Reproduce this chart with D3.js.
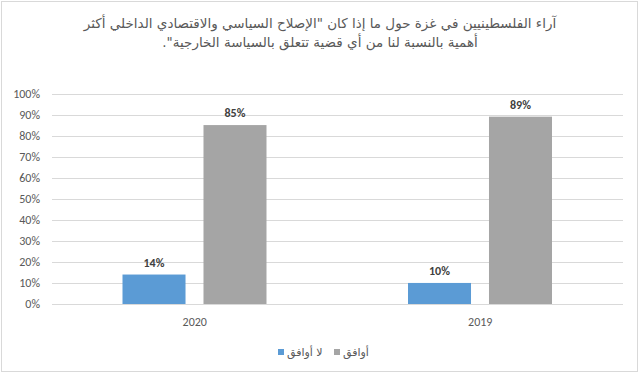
<!DOCTYPE html>
<html>
<head>
<meta charset="utf-8">
<script src="https://cdn.jsdelivr.net/npm/d3@7"></script>
<style>
  html, body { margin: 0; padding: 0; background: #fff; }
  svg { display: block; }
</style>
</head>
<body>
<div id="chart"></div>
<script>
// data
const titleLines = [
    "آراء الفلسطينيين في غزة حول ما إذا كان \"الإصلاح السياسي والاقتصادي الداخلي أكثر",
    "أهمية بالنسبة لنا من أي قضية تتعلق بالسياسة الخارجية\"."
]
const years = ["2020", "2019"]
const seriesNames = ["لا أوافق", "أوافق"]
const disagree = [0.14, 0.10]
const agree = [0.85, 0.89]
const yTicks = [0, 0.1, 0.2, 0.3, 0.4, 0.5, 0.6, 0.7, 0.8, 0.9, 1]
const colors = ["#5b9bd5", "#a5a5a5"]

let width = 640, height = 374
let margin = { top: 93.5, right: 17, bottom: 70, left: 52 }

let svg = d3.select("#chart")
    .append("svg")
    .attr("width", width)
    .attr("height", height)

//外框
svg.append("rect")
    .attr("x", 1.5).attr("y", 1.5)
    .attr("width", 636).attr("height", 370)
    .attr("fill", "#fff")
    .attr("stroke", "#d9d9d9")
    .attr("stroke-width", 1)

//标题
svg.append("g")
    .selectAll("text")
    .data(titleLines)
    .enter()
    .append("text")
    .attr("x", 320)
    .attr("y", (d, i) => 28 + i * 19)
    .attr("text-anchor", "middle")
    .attr("direction", "rtl")
    .attr("font-family", "'DejaVu Sans', sans-serif")
    .attr("font-size", 13.5)
    .attr("fill", "#595959")
    .text((d) => d)

let x0 = d3.scaleBand()
    .domain(years)
    .range([margin.left, width - margin.right])
let x1 = d3.scaleBand()
    .domain(seriesNames)
    .range([70.5, 285 - 70.5])
    .paddingInner(0.222)
let y = d3.scaleLinear()
    .domain([0, 1])
    .range([304, margin.top])

//网格线
svg.append("g")
    .selectAll("line")
    .data(yTicks)
    .enter()
    .append("line")
    .attr("x1", margin.left)
    .attr("x2", width - margin.right)
    .attr("y1", (d) => Math.round(y(d)) + 0.5)
    .attr("y2", (d) => Math.round(y(d)) + 0.5)
    .attr("stroke", "#d9d9d9")
    .attr("stroke-width", 1)

//y轴
let yAxis = svg.append("g")
    .attr("transform", `translate(${margin.left},0)`)
    .call(d3.axisLeft(y).tickValues(yTicks).tickFormat(d3.format(".0%")).tickSize(0).tickPadding(12))
yAxis.select(".domain").remove()
yAxis.selectAll("text")
    .attr("font-family", "Calibri, 'Liberation Sans', Arial, sans-serif")
    .attr("font-size", 12)
    .attr("fill", "#595959")

//x轴
let xAxis = svg.append("g")
    .attr("transform", `translate(0,${y(0)})`)
    .call(d3.axisBottom(x0).tickSize(0).tickPadding(13))
xAxis.select(".domain").remove()
xAxis.selectAll("text")
    .attr("font-family", "Calibri, 'Liberation Sans', Arial, sans-serif")
    .attr("font-size", 12)
    .attr("fill", "#595959")

let rows = years.map((yr, i) => ({ year: yr, values: [disagree[i], agree[i]] }))

let groups = svg.append("g")
    .selectAll("g")
    .data(rows)
    .enter()
    .append("g")
    .attr("transform", (d) => `translate(${x0(d.year)},0)`)

groups.selectAll("rect")
    .data((d) => d.values.map((v, j) => ({ name: seriesNames[j], value: v, color: colors[j] })))
    .enter()
    .append("rect")
    .attr("x", (d) => x1(d.name))
    .attr("width", x1.bandwidth())
    .attr("y", (d) => y(d.value))
    .attr("height", (d) => y(0) - y(d.value))
    .attr("fill", (d) => d.color)

//数据标签
groups.selectAll("text")
    .data((d) => d.values.map((v, j) => ({ name: seriesNames[j], value: v })))
    .enter()
    .append("text")
    .attr("x", (d) => x1(d.name) + x1.bandwidth() / 2)
    .attr("y", (d) => y(d.value) - 8)
    .attr("text-anchor", "middle")
    .attr("font-family", "Calibri, 'Liberation Sans', Arial, sans-serif")
    .attr("font-size", 12)
    .attr("font-weight", "bold")
    .attr("fill", "#404040")
    .text((d) => d3.format(".0%")(d.value))

//图例
let legendX = [278, 334]
let legend = svg.append("g")
    .selectAll("g")
    .data(seriesNames)
    .enter()
    .append("g")
    .attr("transform", (d, i) => `translate(${legendX[i]},349)`)
legend.append("rect")
    .attr("width", 6)
    .attr("height", 6)
    .attr("fill", (d, i) => colors[i])
legend.append("text")
    .attr("x", 9)
    .attr("y", 7)
    .attr("font-family", "'DejaVu Sans', sans-serif")
    .attr("font-size", 11)
    .attr("fill", "#595959")
    .text((d) => d)
</script>
</body>
</html>
